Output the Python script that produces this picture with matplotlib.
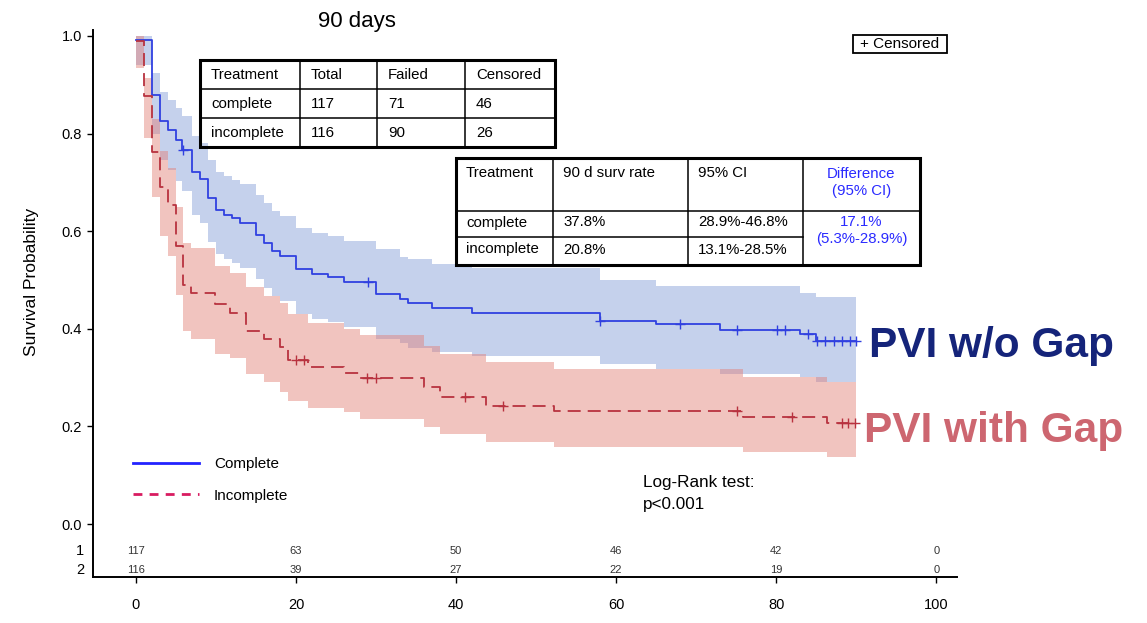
import numpy as np
import matplotlib
matplotlib.use('Agg')
import matplotlib.pyplot as plt
from matplotlib.lines import Line2D
from matplotlib.patches import Rectangle
import matplotlib.transforms as mtransforms

plt.rcParams['font.family'] = ['Liberation Sans', 'DejaVu Sans']

# ---------------- data ----------------
complete_t = [0, 2, 3, 4, 5, 5.75, 7, 8, 9, 10, 11, 12, 13, 15, 16, 17, 18, 20, 22, 24, 26,
              30, 33, 34, 37, 42, 58, 65, 73, 83, 85]
complete_s = [0.991, 0.878, 0.826, 0.807, 0.787, 0.767, 0.722, 0.706, 0.668, 0.644, 0.634,
              0.626, 0.617, 0.593, 0.576, 0.559, 0.549, 0.522, 0.513, 0.506, 0.495,
              0.471, 0.461, 0.452, 0.442, 0.433, 0.416, 0.410, 0.397, 0.389, 0.376]
complete_hi = [1.0, 0.923, 0.886, 0.869, 0.853, 0.835, 0.795, 0.780, 0.745, 0.722, 0.713,
               0.705, 0.697, 0.674, 0.658, 0.642, 0.632, 0.606, 0.597, 0.590, 0.580,
               0.563, 0.548, 0.543, 0.533, 0.525, 0.500, 0.487, 0.487, 0.474, 0.465]
complete_lo = [0.94, 0.800, 0.745, 0.725, 0.703, 0.682, 0.634, 0.617, 0.578, 0.553, 0.543,
               0.535, 0.525, 0.501, 0.484, 0.467, 0.457, 0.430, 0.421, 0.414, 0.403,
               0.380, 0.370, 0.361, 0.352, 0.345, 0.328, 0.318, 0.308, 0.301, 0.290]
complete_cens = [5.9, 29, 58, 68, 75.1, 80.1, 81.1, 84, 85.1, 86.1, 87.2, 88.2, 89.2, 90]

incomplete_t = [0, 1, 2, 3, 4, 5, 5.9, 6.9, 9.9, 11.75, 13.8, 16, 18, 19, 21.5, 26, 28,
                36, 38, 43.8, 52.2, 75.9, 86.3]
incomplete_s = [0.99, 0.876, 0.763, 0.690, 0.653, 0.569, 0.490, 0.474, 0.451, 0.433, 0.396,
                0.379, 0.362, 0.336, 0.321, 0.309, 0.299, 0.280, 0.260, 0.241, 0.231,
                0.219, 0.207]
incomplete_hi = [1.0, 0.913, 0.830, 0.765, 0.730, 0.650, 0.576, 0.566, 0.529, 0.515, 0.485,
                 0.468, 0.452, 0.430, 0.412, 0.400, 0.388, 0.365, 0.349, 0.331, 0.318,
                 0.301, 0.290]
incomplete_lo = [0.935, 0.790, 0.670, 0.590, 0.550, 0.470, 0.396, 0.380, 0.349, 0.341, 0.308,
                 0.290, 0.270, 0.253, 0.238, 0.229, 0.216, 0.199, 0.185, 0.168, 0.158,
                 0.148, 0.137]
incomplete_cens = [20, 21, 28.9, 30, 41.1, 45.9, 75.1, 82, 88.2, 89.0, 89.9]

follow_up_end = 90

risk_times = [0, 20, 40, 60, 80, 100]
risk_complete = [117, 63, 50, 46, 42, 0]
risk_incomplete = [116, 39, 27, 22, 19, 0]
risk_row_labels = ['1', '2']

table1_header = ['Treatment', 'Total', 'Failed', 'Censored']
table1_rows = [['complete', '117', '71', '46'],
               ['incomplete', '116', '90', '26']]
table2_header = ['Treatment', '90 d surv rate', '95% CI', 'Difference\n(95% CI)']
table2_rows = [['complete', '37.8%', '28.9%-46.8%'],
               ['incomplete', '20.8%', '13.1%-28.5%']]
diff_text = '17.1%\n(5.3%-28.9%)'

# ---------------- figure ----------------
W, H = 1147, 623
fig = plt.figure(figsize=(W / 100, H / 100), dpi=100)
fig.patch.set_facecolor('white')

ax = fig.add_axes([93 / W, 46 / H, 864 / W, 547 / H])
ax.set_xlim(-5.37, 102.6)
ax.set_ylim(-0.1084, 1.012)
for s in ['top', 'right']:
    ax.spines[s].set_visible(False)
for s in ['left', 'bottom']:
    ax.spines[s].set_linewidth(1.4)
ax.set_xticks([0, 20, 40, 60, 80, 100])
ax.set_yticks([0.0, 0.2, 0.4, 0.6, 0.8, 1.0])
ax.set_yticklabels(['0.0', '0.2', '0.4', '0.6', '0.8', '1.0'])
ax.tick_params(axis='both', length=4, width=1, labelsize=10.5)
ax.tick_params(axis='y', pad=4)
ax.tick_params(axis='x', pad=11)


def extend(t, v):
    return np.append(np.asarray(t, float), follow_up_end), np.append(np.asarray(v, float), v[-1])


def value_at(t, v, x):
    t = np.asarray(t, float)
    idx = np.searchsorted(t, np.asarray(x, float), side='right') - 1
    return np.asarray(v, float)[idx]


# bands
xb, hb = extend(complete_t, complete_hi)
_, lb = extend(complete_t, complete_lo)
ax.fill_between(xb, lb, hb, step='post', color='#809bd5', alpha=0.45, linewidth=0, zorder=1)
xr, hr = extend(incomplete_t, incomplete_hi)
_, lr = extend(incomplete_t, incomplete_lo)
ax.fill_between(xr, lr, hr, step='post', color='#e27c73', alpha=0.45, linewidth=0, zorder=1.1)

# curves
blue = '#3040e0'
red = '#b8323f'
xs, ys = extend(complete_t, complete_s)
ax.step(xs, ys, where='post', color=blue, lw=1.3, zorder=3)
xs2, ys2 = extend(incomplete_t, incomplete_s)
ax.step(xs2, ys2, where='post', color=red, lw=1.3, dashes=(7.2, 3.9), zorder=3)

# censor marks
ax.plot(complete_cens, value_at(complete_t, complete_s, complete_cens), ls='none',
        marker='+', ms=7, mew=1.0, color=blue, zorder=4)
ax.plot(incomplete_cens, value_at(incomplete_t, incomplete_s, incomplete_cens), ls='none',
        marker='+', ms=7, mew=1.0, color=red, zorder=4)

# numbers at risk
row_y = [-0.0552, -0.094]
for yv, counts in zip(row_y, [risk_complete, risk_incomplete]):
    for tx, n in zip(risk_times, counts):
        ax.text(tx, yv, str(n), ha='center', va='center', fontsize=8, color='#333333')
trans = mtransforms.blended_transform_factory(ax.transAxes, ax.transData)
for yv, lab in zip(row_y, risk_row_labels):
    ax.text(-0.0105, yv, lab, transform=trans, ha='right', va='center', fontsize=10.5)

# legend
handles = [Line2D([], [], color='#2222ff', lw=2.0),
           Line2D([], [], color='#d81b60', lw=2.0, dashes=(3.2, 2.6))]
leg = ax.legend(handles, ['Complete', 'Incomplete'], loc='upper left',
                bbox_to_anchor=(133 / W, 1 - 457 / H), bbox_transform=fig.transFigure,
                frameon=False, fontsize=11, handlelength=4.3, handletextpad=1.0,
                labelspacing=1.15, borderpad=0, borderaxespad=0)

# ---------------- overlay in pixel coordinates ----------------
ov = fig.add_axes([0, 0, 1, 1], zorder=5)
ov.set_xlim(0, W)
ov.set_ylim(H, 0)
ov.axis('off')
ov.patch.set_alpha(0)

ov.text(357, 27, '90 days', ha='center', va='baseline', fontsize=16)
ov.text(32, 282, 'Survival Probability', rotation=90, ha='center', va='center', fontsize=12.5)

# censored key box
ov.add_patch(Rectangle((853, 35), 94, 18, fill=False, lw=1.3, ec='black'))
ov.text(900, 44.5, '+ Censored', ha='center', va='center', fontsize=11)


def grid_table(cols, rows, skip_hlines=()):
    x0, x1 = cols[0], cols[-1]
    y0, y1 = rows[0], rows[-1]
    ov.add_patch(Rectangle((x0, y0), x1 - x0, y1 - y0, fill=False, lw=2.2, ec='black'))
    for c in cols[1:-1]:
        ov.plot([c, c], [y0, y1], color='black', lw=1.1)
    for i, r in enumerate(rows[1:-1], start=1):
        xe = skip_hlines[i] if i in skip_hlines else x1
        ov.plot([x0, xe], [r, r], color='black', lw=1.1)


# table 1
t1_cols = [200, 300, 377, 465, 555]
t1_rows = [60, 89, 118, 147]
grid_table(t1_cols, t1_rows)
for r, row in enumerate([table1_header] + table1_rows):
    yc = (t1_rows[r] + t1_rows[r + 1]) / 2 + 0.5
    for c, txt in enumerate(row):
        ov.text(t1_cols[c] + 11, yc, txt, ha='left', va='center', fontsize=10.8)

# table 2
t2_cols = [456, 553, 688, 803, 920]
t2_rows = [158, 211, 237, 265]
grid_table(t2_cols, t2_rows, skip_hlines={2: 803})
for c, txt in enumerate(table2_header[:3]):
    ov.text(t2_cols[c] + 10, 173, txt, ha='left', va='center', fontsize=10.8)
diff_color = '#2a2aff'
ov.text((t2_cols[3] + t2_cols[4]) / 2, 182.5, table2_header[3], ha='center', va='center',
        fontsize=10.8, color=diff_color, linespacing=1.3)
for r, row in enumerate(table2_rows, start=1):
    yc = (t2_rows[r] + t2_rows[r + 1]) / 2 - 1.5
    for c, txt in enumerate(row):
        ov.text(t2_cols[c] + 10, yc, txt, ha='left', va='center', fontsize=10.8)
ov.text((t2_cols[3] + t2_cols[4]) / 2, 230.5, diff_text, ha='center', va='center',
        fontsize=10.8, color=diff_color, linespacing=1.3)

# log-rank
ov.text(643, 483, 'Log-Rank test:', ha='left', va='center', fontsize=12.3)
ov.text(643, 504, 'p<0.001', ha='left', va='center', fontsize=12.3)

# group labels
ov.text(869, 357, 'PVI w/o Gap', ha='left', va='baseline', fontsize=30.5,
        fontweight='bold', color='#15247a')
ov.text(864, 442, 'PVI with Gap', ha='left', va='baseline', fontsize=30.5,
        fontweight='bold', color='#cd6670')

fig.savefig('out.png', dpi=100)
